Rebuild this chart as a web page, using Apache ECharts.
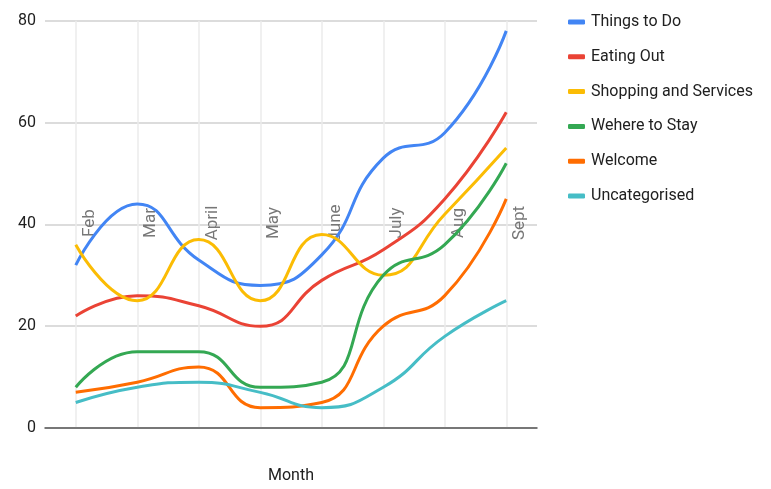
<!DOCTYPE html>
<html>
<head>
<meta charset="utf-8">
<script src="https://cdn.jsdelivr.net/npm/echarts@6/dist/echarts.min.js"></script>
<style>
html,body{margin:0;padding:0;background:#fff;}
#chart{width:771px;height:489px;}
</style>
</head>
<body>
<div id="chart"></div>
<script>
var months = ['Feb', 'Mar', 'April', 'May', 'June', 'July', 'Aug', 'Sept'];
var thingsToDo = [32, 44, 33, 28, 34, 53, 58, 78];
var eatingOut = [22, 26, 24, 20, 29, 35, 45, 62];
var shopping = [36, 25, 37, 25, 38, 30, 42, 55];
var whereToStay = [8, 15, 15, 8, 9, 30, 36, 52];
var welcome = [7, 9, 12, 4, 5, 20, 26, 45];
var uncategorised = [5, 8, 9, 7, 4, 8, 18, 25];
var yTicks = [0, 20, 40, 60, 80];

var names = ['Things to Do', 'Eating Out', 'Shopping and Services', 'Wehere to Stay', 'Welcome', 'Uncategorised'];
var colors = ['#4285F4', '#EA4335', '#FBBC04', '#34A853', '#FF6D01', '#46BDC6'];
var datasets = [thingsToDo, eatingOut, shopping, whereToStay, welcome, uncategorised];

var chart = echarts.init(document.getElementById('chart'));
var font = 'Roboto, Arial, sans-serif';
chart.setOption({
  animation: false,
  color: colors,
  textStyle: {fontFamily: font},
  grid: {left: 45, right: 234, top: 20.7, bottom: 59, containLabel: false},
  legend: {
    orient: 'vertical',
    left: 563,
    top: 7,
    icon: 'roundRect',
    itemWidth: 17,
    itemHeight: 5,
    itemGap: 14.8,
    textStyle: {fontSize: 16, color: '#202020', fontFamily: font, lineHeight: 20, padding: [0, 0, 0, 1]},
    data: names
  },
  xAxis: {
    type: 'category',
    data: months,
    boundaryGap: true,
    name: 'Month',
    nameLocation: 'middle',
    nameGap: 40,
    nameTextStyle: {fontSize: 16, color: '#202020', fontFamily: font},
    axisLine: {show: true, lineStyle: {color: '#555', width: 1.5}},
    axisTick: {show: false},
    splitLine: {show: true, alignWithLabel: true, lineStyle: {color: '#ebebeb', width: 1.5}},
    axisLabel: {
      rotate: 90,
      margin: -205,
      align: 'center',
      verticalAlign: 'top',
      padding: [5, 0, 0, 0],
      fontSize: 17,
      color: '#777',
      fontFamily: font,
      interval: 0
    }
  },
  yAxis: {
    type: 'value',
    min: yTicks[0],
    max: yTicks[yTicks.length - 1],
    interval: 20,
    axisLine: {show: false},
    axisTick: {show: false},
    axisLabel: {fontSize: 16, color: '#202020', margin: 9, fontFamily: font},
    splitLine: {show: true, lineStyle: {color: '#d0d0d0', width: 1.5}}
  },
  series: datasets.map(function (d, i) {
    return {
      name: names[i],
      type: 'line',
      data: d,
      smooth: 0.5,
      symbol: 'none',
      lineStyle: {width: 3, color: colors[i]},
      itemStyle: {color: colors[i]}
    };
  })
});
</script>
</body>
</html>
